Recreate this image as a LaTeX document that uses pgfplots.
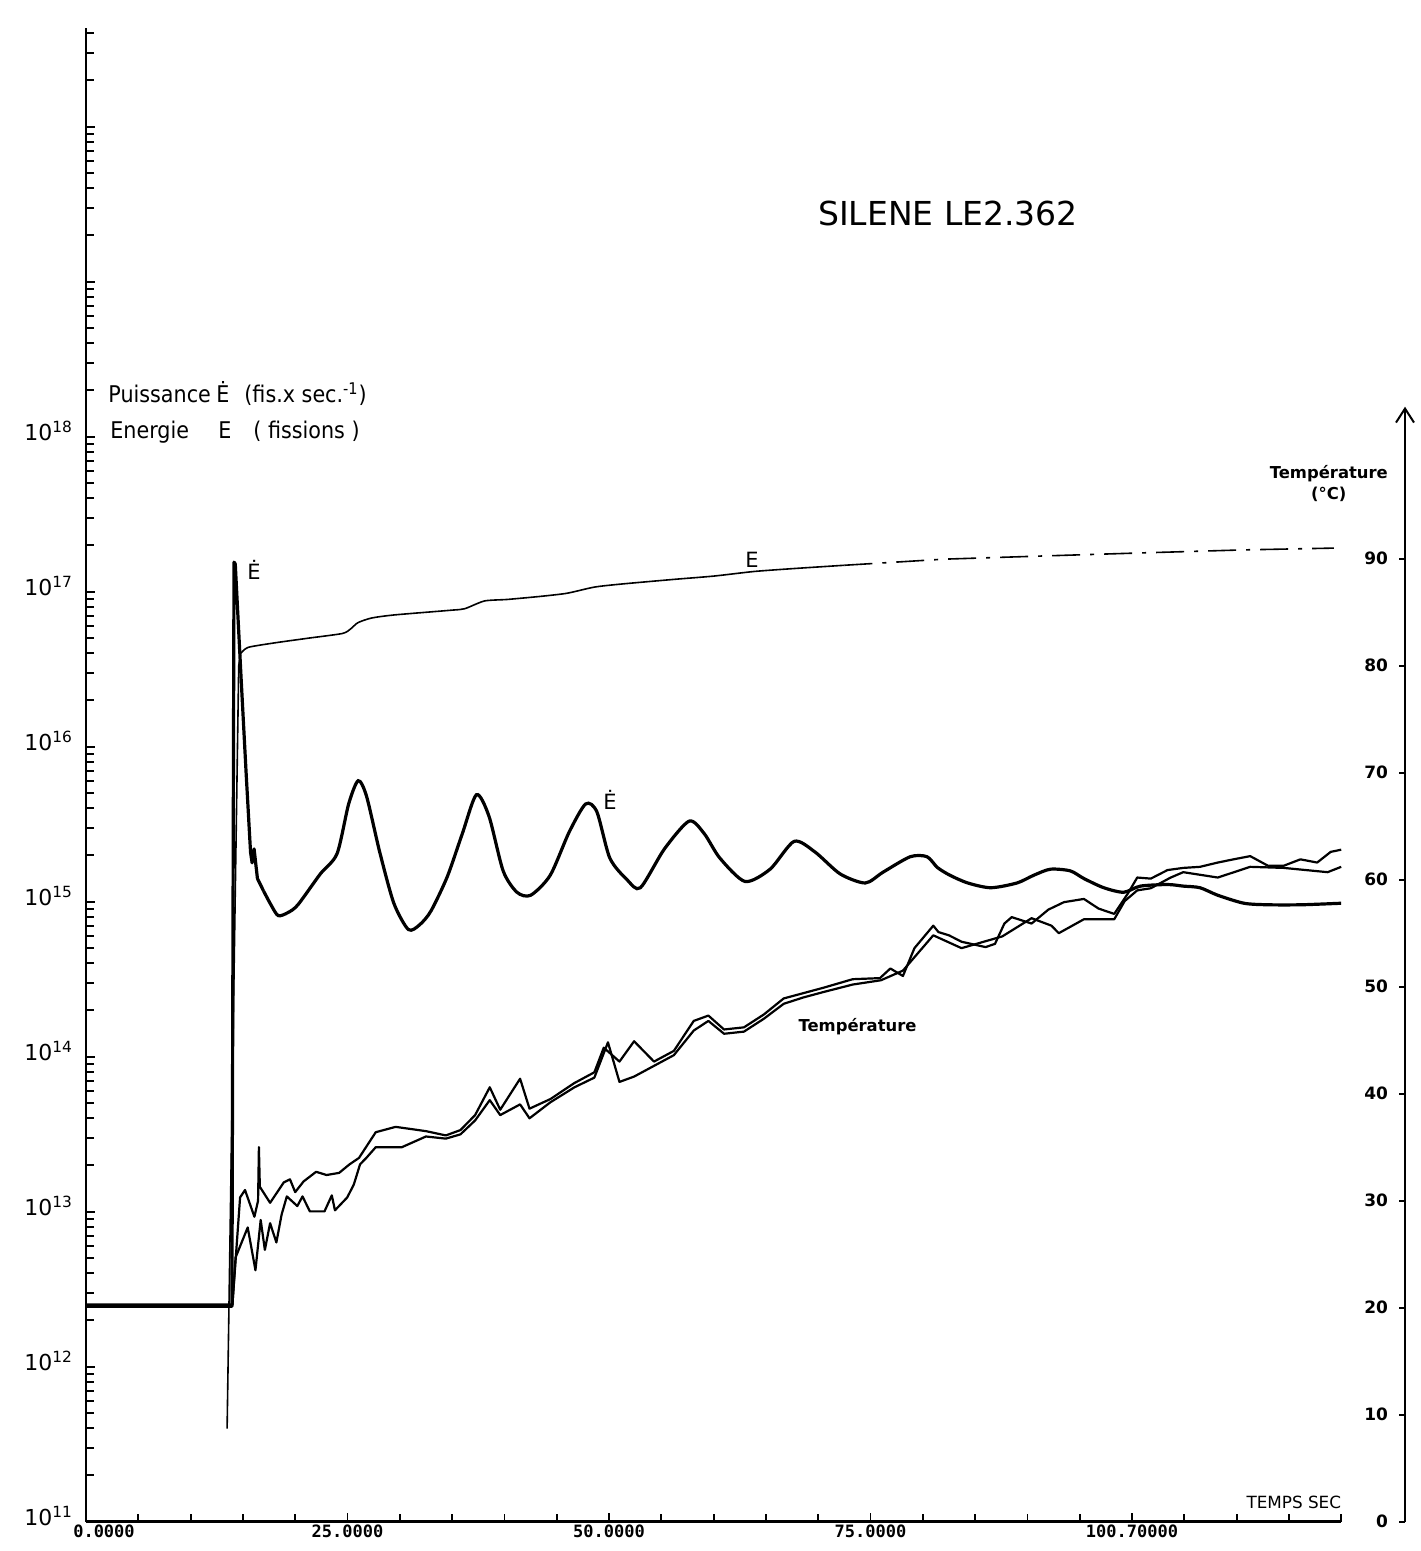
\documentclass[border=0pt]{standalone}
\usepackage{pgfplots}
\pgfplotsset{compat=1.18}
\usepackage{fontspec}
\setmainfont{DejaVu Sans}
\newfontfamily\monofont{DejaVu Sans Mono}
\newfontfamily\narrowfont[FakeStretch=0.9]{DejaVu Sans}
\usetikzlibrary{arrows.meta}

\begin{document}
\begin{tikzpicture}
\path[use as bounding box] (0pt,0pt) rectangle (710pt,-775.5pt);

% ---------------- power and energy, logarithmic scale ----------------
\begin{axis}[
  at={(43pt,-760.85pt)}, anchor=south west,
  scale only axis, width=627.6pt, height=747pt,
  xmin=0, xmax=120,
  ymode=log, ymin=1e11, ymax=4.35e20,
  axis x line=bottom, axis y line=left,
  axis line style={-, line width=1.2pt},
  tick align=inside,
  major tick length=4.5pt, minor tick length=4pt,
  tick style={line width=0.9pt, black},
  xtick={0,25,50,75,100},
  xticklabels={\hspace*{18pt}0.0000,25.0000,50.0000,75.0000,100.70000},
  minor xtick={5,10,...,120},
  xticklabel style={font=\monofont\bfseries\fontsize{8.5}{10}\selectfont, yshift=2pt},
  ytick={1e11,1e12,1e13,1e14,1e15,1e16,1e17,1e18,1e19,1e20},
  yticklabels={10\textsuperscript{11},10\textsuperscript{12},10\textsuperscript{13},10\textsuperscript{14},10\textsuperscript{15},10\textsuperscript{16},10\textsuperscript{17},10\textsuperscript{18},{},{}},
  minor ytick={2e11,3e11,4e11,5e11,6e11,7e11,8e11,9e11,
               2e12,3e12,4e12,5e12,6e12,7e12,8e12,9e12,
               2e13,3e13,4e13,5e13,6e13,7e13,8e13,9e13,
               2e14,3e14,4e14,5e14,6e14,7e14,8e14,9e14,
               2e15,3e15,4e15,5e15,6e15,7e15,8e15,9e15,
               2e16,3e16,4e16,5e16,6e16,7e16,8e16,9e16,
               2e17,3e17,4e17,5e17,6e17,7e17,8e17,9e17,
               2e18,3e18,4e18,5e18,6e18,7e18,8e18,9e18,
               2e19,3e19,4e19,5e19,6e19,7e19,8e19,9e19,
               2e20,3e20,4e20},
  yticklabel style={font=\fontsize{11}{12}\selectfont, yshift=3pt, xshift=-3pt},
]
% power \dot E (fissions per second): initial level, excursion and first fall
\addplot[black, line width=1.6pt, line join=round] coordinates {
  (0,2.45e12) (13.95,2.45e12) (14.15,1.55e17) (14.27,1.51e17) (14.83,2.75e16)
  (15.30,6.92e15) (15.73,2.09e15) (15.88,1.78e15) (16.07,2.19e15) (16.39,1.41e15)
  (16.98,1.17e15)
};
% power \dot E: damped oscillations
\addplot[black, line width=1.6pt, smooth, tension=0.45] coordinates {
  (16.98,1.17e15) (17.68,9.55e14) (18.37,8.13e14) (19.3,8.5e14) (20.26,9.55e14) (22.4,1.51e15)
  (24.0,2.04e15) (25.11,4.27e15) (26.02,6.03e15) (26.82,4.79e15) (28.08,2.09e15)
  (29.43,9.77e14) (30.82,6.61e14) (31.9,7.1e14) (32.98,8.71e14) (34.54,1.45e15) (35.98,2.75e15)
  (37.33,4.90e15) (38.53,3.55e15) (39.88,1.58e15) (41.2,1.15e15) (42.51,1.10e15) (44.38,1.48e15)
  (46.2,2.82e15) (47.77,4.27e15) (48.84,3.80e15) (50.08,1.91e15) (51.75,1.38e15)
  (53.0,1.23e15) (55.3,2.19e15) (57.66,3.31e15) (59.1,2.75e15) (60.6,1.91e15)
  (63.0,1.35e15) (65.4,1.62e15) (67.7,2.45e15) (69.7,2.09e15) (72.1,1.51e15)
  (74.5,1.32e15) (76.2,1.55e15) (78.8,1.95e15) (80.4,1.95e15) (81.4,1.66e15)
  (82.6,1.48e15) (84.3,1.32e15) (86.5,1.23e15) (89.0,1.32e15) (90.6,1.48e15)
  (92.2,1.62e15) (94.1,1.58e15) (95.4,1.41e15) (97.3,1.23e15) (99.2,1.15e15)
  (100.8,1.26e15) (103.4,1.29e15) (104.9,1.26e15) (106.5,1.23e15) (108.2,1.10e15)
  (110.7,9.77e14) (113.0,9.55e14) (116.2,9.55e14) (120.0,9.77e14)
};
% energy E (fissions)
\addplot[black, line width=0.8pt, smooth, tension=0.4] coordinates {
  (14.77,3.98e16) (15.5,4.37e16) (18.1,4.68e16)
  (21.25,5.01e16) (24.5,5.37e16) (25.3,5.75e16) (26.0,6.31e16) (27.3,6.76e16)
  (29.5,7.08e16) (34.9,7.59e16) (36.2,7.76e16) (38.1,8.71e16) (40.3,8.91e16)
  (43.5,9.33e16) (46.0,9.77e16) (48.6,1.07e17) (51.2,1.12e17) (56.2,1.20e17)
  (60.0,1.26e17) (63.9,1.35e17) (67.7,1.41e17) (72.5,1.48e17)
};
\addplot[black, line width=0.8pt] coordinates {
  (13.49,3.98e11) (14.6,3.31e16) (14.77,3.98e16)
};
\addplot[black, line width=0.8pt, dash pattern=on 14pt off 5pt on 2pt off 5pt] coordinates {
  (72.5,1.48e17) (82.0,1.62e17) (91.6,1.70e17) (101.1,1.78e17) (110.7,1.86e17) (119.3,1.91e17)
};
\end{axis}

% ---------------- temperature, linear scale ----------------
\begin{axis}[
  at={(43pt,-760.85pt)}, anchor=south west,
  scale only axis, width=659.5pt, height=557.5pt,
  xmin=0, xmax=126.1, ymin=0, ymax=104.2,
  axis x line=none, axis y line=right,
  y axis line style={-{Straight Barb[length=7pt,width=9pt,line width=1pt]}, line width=1.2pt},
  ytick={0,10,...,90},
  tick align=inside, major tick length=3pt,
  tick style={line width=0.9pt, black},
  /pgf/number format/assume math mode=true,
  yticklabel style={anchor=east, xshift=-5pt, font=\bfseries\fontsize{8.5}{9}\selectfont},
]
\addplot[black, line width=1.1pt, line join=round] coordinates {
  (0,20.3) (14.0,20.3) (14.73,30.3) (15.2,31.0) (16.1,28.5) (16.45,30.0) (16.53,35.0) (16.62,31.3)
  (17.6,29.8) (18.9,31.7) (19.5,32.0) (20.0,30.8) (20.8,31.8) (22.0,32.7) (23.0,32.4)
  (24.2,32.6) (25.2,33.4) (26.1,34.0) (27.7,36.4) (29.6,36.9) (32.5,36.5) (34.4,36.1)
  (35.8,36.6) (37.2,38.0) (38.6,40.6) (39.6,38.5) (41.5,41.4) (42.4,38.6) (44.4,39.5)
  (46.7,41.0) (48.6,42.0) (49.5,44.3) (51.0,43.0) (52.4,44.9) (54.3,43.0) (56.2,44.0)
  (58.1,46.8) (59.5,47.3) (61.0,46.0) (62.9,46.2) (64.8,47.4) (66.7,48.9) (68.6,49.4)
  (70.5,49.9) (73.3,50.7) (75.9,50.8) (76.9,51.7) (78.1,51.0) (79.2,53.6) (81.0,55.7)
  (81.5,55.1) (82.5,54.8) (83.7,54.2) (86.0,53.7) (86.9,54.0) (87.8,55.9) (88.5,56.5)
  (90.4,55.9) (92.0,57.2) (93.5,57.9) (95.4,58.2) (96.8,57.3) (98.3,56.8) (99.6,58.7)
  (100.5,60.2) (101.8,60.1) (103.4,60.9) (104.9,61.1) (106.5,61.2) (108.2,61.6)
  (109.7,61.9) (111.3,62.2) (113.0,61.3) (114.5,61.3) (116.1,61.9) (117.7,61.6)
  (119.0,62.6) (120.0,62.8)
};
\addplot[black, line width=1.1pt, line join=round] coordinates {
  (14.0,20.3) (14.3,24.7) (15.46,27.5) (16.2,23.5) (16.7,28.2) (17.1,25.4) (17.6,27.9)
  (18.2,26.1) (18.7,28.7) (19.2,30.4) (20.2,29.5) (20.7,30.4) (21.4,29.0) (22.8,29.0)
  (23.5,30.5) (23.8,29.1) (24.97,30.3) (25.6,31.5) (26.2,33.4) (26.8,34.0) (27.7,35.0)
  (30.2,35.0) (32.5,36.0) (34.4,35.8) (35.8,36.2) (37.2,37.5) (38.6,39.4) (39.6,38.0)
  (41.5,39.0) (42.4,37.7) (44.4,39.2) (46.7,40.6) (48.6,41.5) (49.9,44.8) (51.0,41.1)
  (52.4,41.6) (54.3,42.6) (56.2,43.6) (58.1,45.9) (59.5,46.8) (61.0,45.6) (62.9,45.8)
  (64.8,47.0) (66.7,48.4) (68.6,49.0) (70.5,49.5) (73.3,50.2) (76.0,50.6) (78.1,51.5)
  (81.0,54.8) (83.7,53.6) (87.6,54.7) (90.4,56.4) (92.3,55.7) (93.0,55.0) (95.4,56.3)
  (98.3,56.3) (99.3,58.0) (100.5,59.0) (101.8,59.2) (103.7,60.2) (104.9,60.7)
  (108.2,60.2) (111.3,61.2) (114.5,61.1) (118.7,60.7) (120.0,61.2)
};
\end{axis}

% ---------------- titles and curve names ----------------
\node[font=\fontsize{16.5}{18}\selectfont] at (474pt,-106.5pt) {SILENE LE2.362};
\node[anchor=west, inner sep=0pt, font=\narrowfont\fontsize{11.5}{13}\selectfont] at (54pt,-197pt)
  {\makebox[54pt][l]{Puissance}\makebox[14pt][l]{Ė}(fis.x sec.\textsuperscript{-1})};
\node[anchor=west, inner sep=0pt, font=\narrowfont\fontsize{11.5}{13}\selectfont] at (55pt,-216pt)
  {\makebox[54pt][l]{Energie}\makebox[17.5pt][l]{E}( fissions )};
\node[font=\fontsize{10.5}{12}\selectfont] at (127pt,-285pt) {Ė};
\node[font=\fontsize{10.5}{12}\selectfont] at (376pt,-280pt) {E};
\node[font=\fontsize{10.5}{12}\selectfont] at (305pt,-400pt) {Ė};
\node[font=\bfseries\fontsize{8.2}{9}\selectfont] at (428.75pt,-513.5pt) {Température};
\node[align=center, font=\bfseries\fontsize{8.2}{10.5}\selectfont] at (664.4pt,-242pt) {Température\\(°C)};
\node[font=\fontsize{8.4}{10}\selectfont] at (646.9pt,-751.4pt) {TEMPS SEC};
\end{tikzpicture}
\end{document}
